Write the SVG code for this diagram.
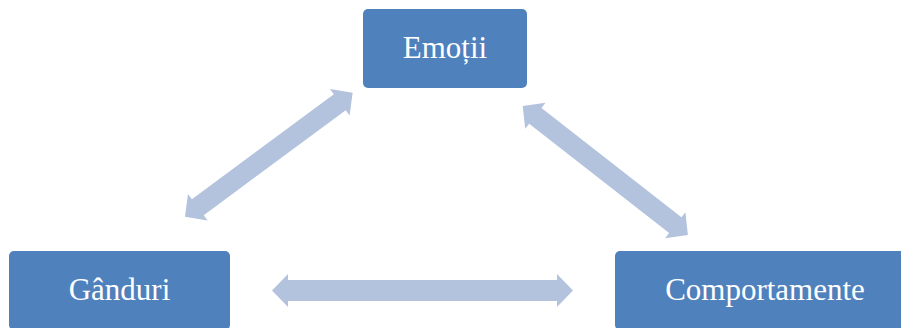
<svg xmlns="http://www.w3.org/2000/svg" width="901" height="328" viewBox="0 0 901 328">
<style>
.box{fill:#4F81BD;}
.lbl{fill:#FFFFFF;font-family:"Liberation Serif","Times New Roman",serif;font-size:31px;text-anchor:middle;}
.arr{fill:#B3C3DE;}
</style>
<rect width="901" height="328" fill="#FFFFFF"/>
<g id="connectors">
<polygon class="arr" transform="translate(422.5,290.5)" points="-150.5,0 -134.5,-16.5 -134.5,-10.5 134.5,-10.5 134.5,-16.5 150.5,0 134.5,16.5 134.5,10.5 -134.5,10.5 -134.5,16.5"/>
<polygon class="arr" transform="translate(268.8,154.7) rotate(-36.5)" points="-104.3,0 -88.3,-16.5 -88.3,-10 88.3,-10 88.3,-16.5 104.3,0 88.3,16.5 88.3,10 -88.3,10 -88.3,16.5"/>
<polygon class="arr" transform="translate(605.3,170.5) rotate(38)" points="-104.8,0 -88.8,-16.5 -88.8,-10 88.8,-10 88.8,-16.5 104.8,0 88.8,16.5 88.8,10 -88.8,10 -88.8,16.5"/>
</g>
<g id="emotii">
<rect class="box" x="363" y="9" width="164" height="79" rx="5"/>
<text class="lbl" x="445" y="58">Emoții</text>
</g>
<g id="ganduri">
<rect class="box" x="9" y="251" width="221" height="79" rx="5"/>
<text class="lbl" x="119.5" y="300">Gânduri</text>
</g>
<g id="comportamente">
<rect class="box" x="615" y="251" width="300" height="79" rx="5"/>
<text class="lbl" x="765" y="300">Comportamente</text>
</g>
</svg>
